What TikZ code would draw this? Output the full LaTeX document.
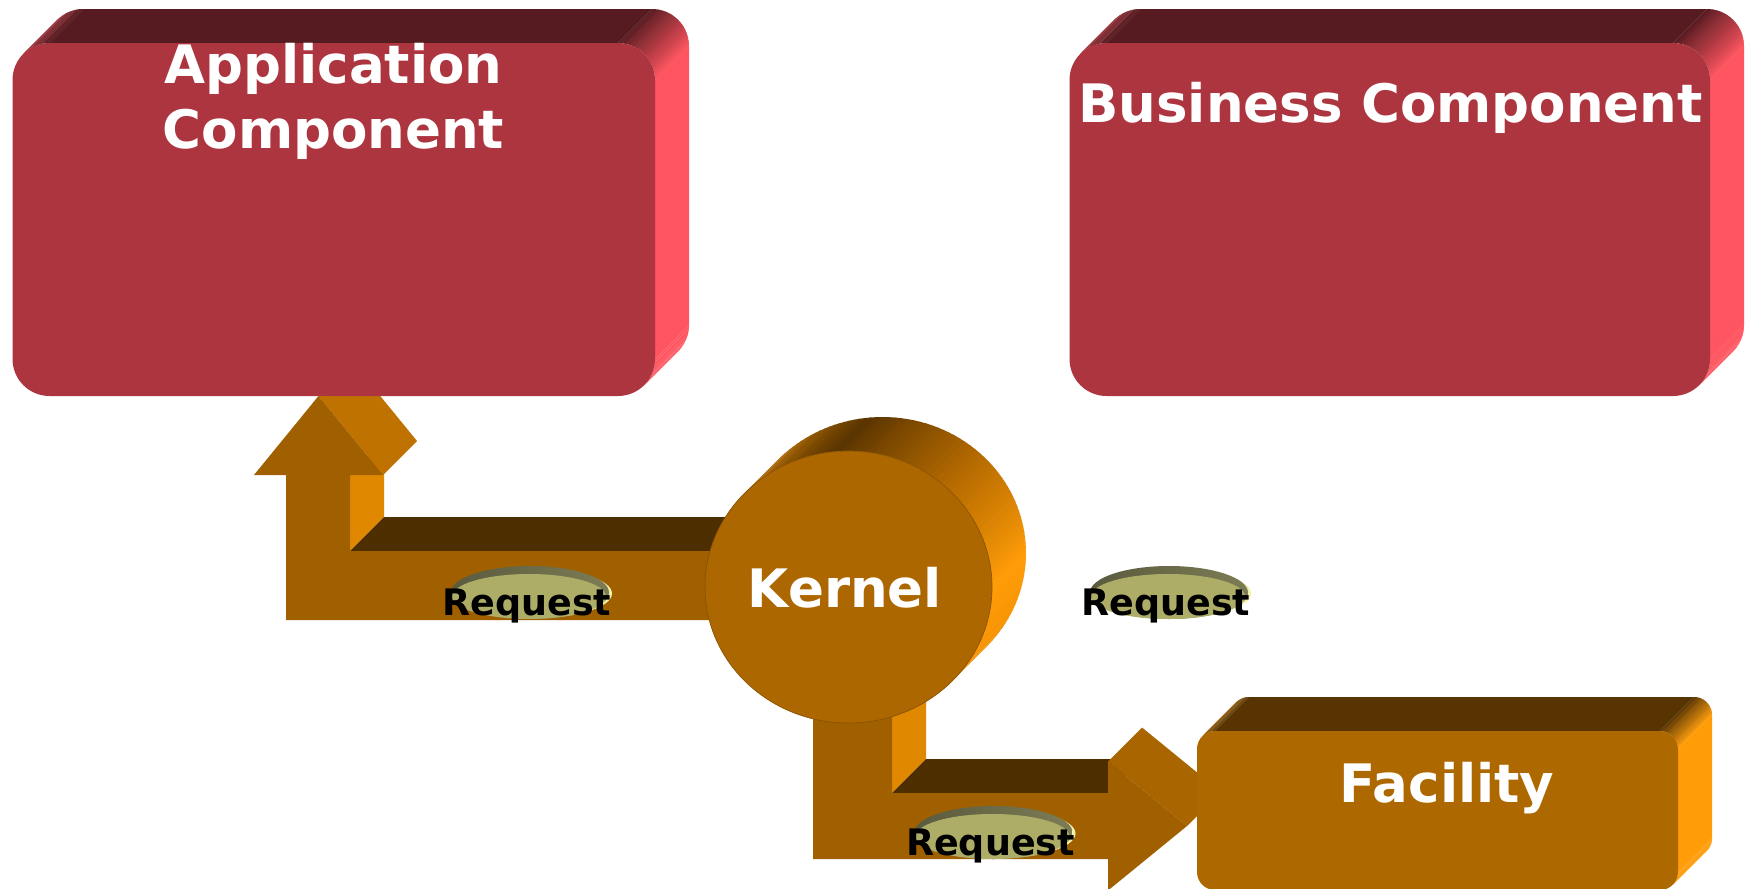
\documentclass[tikz,border=0pt]{standalone}
\usepackage{fontspec}
\setmainfont{DejaVu Sans}

% box colours
\definecolor{redfront}{HTML}{AD3540}
\definecolor{redtop}{HTML}{561B20}
\definecolor{redside}{HTML}{FF5560}
\definecolor{redcorner}{HTML}{A8323C}
\definecolor{facfront}{HTML}{AD6800}
\definecolor{factop}{HTML}{573400}
\definecolor{facside}{HTML}{FF9C08}
\definecolor{faccorner}{HTML}{A86400}
% kernel disc
\definecolor{kernfront}{HTML}{AD6700}
\definecolor{kernedge}{HTML}{8A5300}
\definecolor{kerncorner}{HTML}{BA6F00}
\definecolor{kerndark}{HTML}{5A3500}
\definecolor{kernmid}{HTML}{B86C00}
\definecolor{kernside}{HTML}{FF9C08}
\definecolor{kernlow}{HTML}{F39000}
% arrows
\definecolor{arrfront}{HTML}{A06000}
\definecolor{arrtop}{HTML}{4D2E00}
\definecolor{arrside}{HTML}{E08800}
\definecolor{arrhead}{HTML}{C07200}
\definecolor{arrheadtop}{HTML}{A86500}
% request badges
\definecolor{reqface}{HTML}{ADAD68}
\definecolor{reqrimA}{HTML}{5A5A3E}
\definecolor{reqrimB}{HTML}{7C7C55}
\definecolor{reqglow}{HTML}{F2F2AA}

\tikzset{
  titletext/.style={text=white, font=\fontsize{53}{60}\selectfont\bfseries,
    inner sep=0pt, anchor=base},
  reqtext/.style={text=black, font=\fontsize{36.5}{40}\selectfont\bfseries,
    inner sep=0pt, anchor=base},
}

% strips of an arc (circle or ellipse) swept along the depth vector (+d,-d)
% #1 cx, #2 cy, #3 rx, #4 ry, #5 depth, #6 start angle, #7 end angle,
% #8 colour at start, #9 colour at end
\newcommand{\sweeparc}[9]{%
  \foreach \k in {0,...,19}{%
    \pgfmathsetmacro\sA{(#6)+((#7)-(#6))*\k/20}%
    \pgfmathsetmacro\sB{(#6)+((#7)-(#6))*(\k+1.15)/20}%
    \pgfmathsetmacro\sP{100*(\k+0.5)/20}%
    \fill[fill={#9!\sP!#8}]
      ({#1+(#3)*cos(\sA)},{#2-(#4)*sin(\sA)}) --
      ({#1+(#3)*cos(\sB)},{#2-(#4)*sin(\sB)}) --
      ({#1+(#3)*cos(\sB)+(#5)},{#2-(#4)*sin(\sB)-(#5)}) --
      ({#1+(#3)*cos(\sA)+(#5)},{#2-(#4)*sin(\sA)-(#5)}) -- cycle;
  }%
}

% extruded rounded box: #1 x1, #2 y1, #3 x2, #4 y2, #5 radius, #6 depth, #7 colour prefix
\newcommand{\extbox}[7]{%
  \sweeparc{#1+#5}{#2+#5}{#5}{#5}{#6}{135}{90}{#7corner}{#7top}
  \fill[#7top] ({#1+#5},{#2}) -- ({#3-#5},{#2}) -- ({#3-#5+#6},{#2-#6}) -- ({#1+#5+#6},{#2-#6}) -- cycle;
  \sweeparc{#3-#5}{#2+#5}{#5}{#5}{#6}{90}{0}{#7top}{#7side}
  \fill[#7side] ({#3},{#2+#5}) -- ({#3},{#4-#5}) -- ({#3+#6},{#4-#5-#6}) -- ({#3+#6},{#2+#5-#6}) -- cycle;
  \sweeparc{#3-#5}{#4-#5}{#5}{#5}{#6}{0}{-45}{#7side}{#7side}
  \fill[#7front, rounded corners=#5pt] ({#1},{#2}) rectangle ({#3},{#4});
}

% bevelled oval badge with its caption: #1 node name, #2 cx, #3 cy
\newcommand{\reqlabel}[3]{%
  \fill[reqglow] ({#2+1},{#3+1}) ellipse [x radius=80, y radius=25];
  \shade[left color=reqrimA, right color=reqrimB] ({#2-1},{#3}) ellipse [x radius=79, y radius=26.5];
  \fill[reqface] ({#2-2},{#3+4}) ellipse [x radius=77, y radius=22.5];
  \node[reqtext] (#1) at ({#2-4},{#3+23}) {Request};
}

\begin{document}
\begin{tikzpicture}[x=1pt, y=-1pt]
  \useasboundingbox (0,0) rectangle (1746,889);
  \clip (0,0) rectangle (1746,889);
  \fill[white] (0,0) rectangle (1746,889);

  % L-shaped arrow from the kernel up to the application component
  \fill[arrside] (350,475) -- (350,551) -- (384,517) -- (384,441) -- cycle;
  \fill[arrhead] (318.5,396) -- (383,475) -- (417,441) -- (352.5,362) -- cycle;
  \fill[arrtop] (350,551) -- (760,551) -- (794,517) -- (384,517) -- cycle;
  \fill[arrfront] (760,551) -- (350,551) -- (350,475) -- (383,475) -- (318.5,396)
    -- (254,475) -- (286,475) -- (286,620) -- (760,620) -- cycle;

  % application component
  \extbox{12.5}{43}{655}{396}{37}{34}{red}

  % L-shaped arrow from the kernel to the facility
  \fill[arrside] (892,640) -- (892,793) -- (926,759) -- (926,606) -- cycle;
  \fill[arrtop] (892,793) -- (1108,793) -- (1142,759) -- (926,759) -- cycle;
  \fill[arrheadtop] (1108,761.5) -- (1187,826) -- (1221,792) -- (1142,727.5) -- cycle;
  \fill[arrfront] (813,640) -- (892,640) -- (892,793) -- (1108,793) -- (1108,761.5)
    -- (1187,826) -- (1108,890.5) -- (1108,859) -- (813,859) -- cycle;

  % kernel disc
  \sweeparc{848.5}{587}{143.5}{136}{34}{137}{95}{kerncorner}{kerndark}
  \sweeparc{848.5}{587}{143.5}{136}{34}{95}{45}{kerndark}{kernmid}
  \sweeparc{848.5}{587}{143.5}{136}{34}{45}{0}{kernmid}{kernside}
  \sweeparc{848.5}{587}{143.5}{136}{34}{0}{-44}{kernside}{kernlow}
  \fill[kernfront, draw=kernedge, line width=0.7pt] (848.5,587) ellipse [x radius=143.5, y radius=136];

  % facility and business component
  \extbox{1197}{731}{1678}{890}{18}{34}{fac}
  \extbox{1069.5}{43}{1710}{396}{37}{34}{red}

  % request badges
  \reqlabel{reqapp}{531}{592.5}
  \reqlabel{reqbiz}{1170}{592.5}
  \reqlabel{reqfac}{994.5}{832.5}

  % titles
  \node[titletext] (apptitle) at (333.5,83) {Application};
  \node[titletext] (apptitleb) at (333.5,148.5) {Component};
  \node[titletext] (biztitle) at (1390.5,122) {Business Component};
  \node[titletext] (kernel) at (845,607) {Kernel};
  \node[titletext] (facility) at (1447,802) {Facility};
\end{tikzpicture}
\end{document}
